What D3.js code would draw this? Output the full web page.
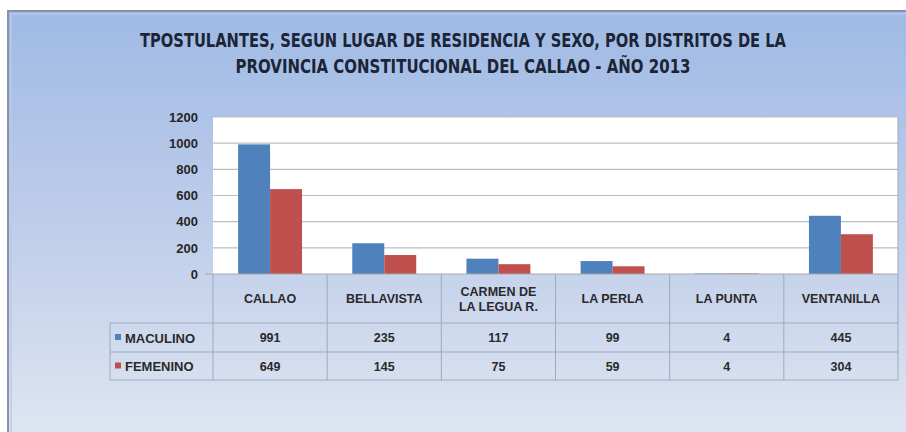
<!DOCTYPE html>
<html>
<head>
<meta charset="utf-8">
<script src="https://cdn.jsdelivr.net/npm/d3@7"></script>
<style>
  html, body { margin: 0; padding: 0; background: #ffffff; }
  svg { display: block; }
</style>
</head>
<body>
<div id="chart"></div>
<script>
// chart data
const districts = ["CALLAO", "BELLAVISTA", "CARMEN DE LA LEGUA R.", "LA PERLA", "LA PUNTA", "VENTANILLA"];
const seriesNames = ["MACULINO", "FEMENINO"];
const masculino = [991, 235, 117, 99, 4, 445];
const femenino = [649, 145, 75, 59, 4, 304];
const yTicks = [0, 200, 400, 600, 800, 1000, 1200];
const titleLines = [
  "TPOSTULANTES, SEGUN LUGAR DE RESIDENCIA Y SEXO, POR DISTRITOS DE LA",
  "PROVINCIA CONSTITUCIONAL DEL CALLAO - AÑO 2013"
];

const width = 906, height = 432;
const colors = ["#4f81bd", "#c0504d"];
const values = [masculino, femenino];

const svg = d3.select("#chart").append("svg")
    .attr("width", width)
    .attr("height", height);

// background panel with gradient
const defs = svg.append("defs");
const grad = defs.append("linearGradient")
    .attr("id", "panelGrad")
    .attr("x1", 0).attr("y1", 0).attr("x2", 0).attr("y2", 1);
grad.append("stop").attr("offset", "0%").attr("stop-color", "#9fbae5");
grad.append("stop").attr("offset", "45%").attr("stop-color", "#bccbe9");
grad.append("stop").attr("offset", "100%").attr("stop-color", "#e0e6f2");

svg.append("rect")
    .attr("x", 8).attr("y", 11)
    .attr("width", width).attr("height", height)
    .attr("fill", "url(#panelGrad)")
    .attr("stroke", "#8791ab")
    .attr("stroke-width", 2);
svg.append("rect")
    .attr("x", 11).attr("y", 14)
    .attr("width", width).attr("height", height)
    .attr("fill", "none")
    .attr("stroke", "#b9c9e6")
    .attr("stroke-width", 1.5);

// title
svg.append("g")
  .selectAll("text")
  .data(titleLines)
  .join("text")
    .attr("x", 463)
    .attr("y", (d, i) => 47 + i * 26)
    .attr("text-anchor", "middle")
    .attr("font-family", "'Liberation Sans Narrow', 'DejaVu Sans Condensed', sans-serif")
    .attr("font-weight", "bold")
    .attr("font-size", 19)
    .attr("fill", "#1b2536")
    .attr("textLength", (d, i) => i === 0 ? 646 : 455)
    .attr("lengthAdjust", "spacingAndGlyphs")
    .text(d => d);

// plot area
const plotLeft = 213, plotRight = 898, plotTop = 117, plotBottom = 274;

svg.append("rect")
    .attr("x", plotLeft).attr("y", plotTop)
    .attr("width", plotRight - plotLeft).attr("height", plotBottom - plotTop)
    .attr("fill", "#ffffff");

const y = d3.scaleLinear().domain([0, 1200]).range([plotBottom, plotTop]);
const x0 = d3.scaleBand().domain(districts).range([plotLeft, plotRight])
    .paddingInner(0.44).paddingOuter(0.22);
const x1 = d3.scaleBand().domain(seriesNames).range([0, x0.bandwidth()]);
const col = d3.scaleBand().domain(districts).range([plotLeft, plotRight]);

// gridlines
svg.append("g")
  .selectAll("line")
  .data(yTicks.filter(d => d > 0))
  .join("line")
    .attr("x1", plotLeft).attr("x2", plotRight)
    .attr("y1", d => y(d)).attr("y2", d => y(d))
    .attr("stroke", "#bdbdbd")
    .attr("stroke-width", 1.2);

// y axis
const yAxis = svg.append("g")
    .attr("transform", `translate(${plotLeft},0)`)
    .call(d3.axisLeft(y).tickValues(yTicks).tickFormat(d3.format("d"))
      .tickSize(0).tickPadding(15));
yAxis.select(".domain").remove();
yAxis.selectAll("text")
    .attr("font-family", "'Liberation Sans', Arial, sans-serif")
    .attr("font-weight", "bold")
    .attr("font-size", 13)
    .attr("fill", "#262626");

// bars
const groups = svg.append("g")
  .selectAll("g")
  .data(districts)
  .join("g")
    .attr("transform", d => `translate(${x0(d)},0)`);

groups.selectAll("rect")
  .data((d, i) => seriesNames.map((s, j) => ({ s, v: values[j][i], c: colors[j] })))
  .join("rect")
    .attr("x", d => x1(d.s))
    .attr("y", d => y(d.v))
    .attr("width", x1.bandwidth())
    .attr("height", d => plotBottom - y(d.v))
    .attr("fill", d => d.c);

// data table
const tableColor = "#9ea9bd";
const rowTop = [plotBottom, 323, 352, 380];
const legendLeft = 110;
const table = svg.append("g").attr("stroke", tableColor).attr("stroke-width", 1);

// horizontal lines
table.append("line").attr("x1", 205).attr("x2", plotRight)
    .attr("y1", plotBottom).attr("y2", plotBottom).attr("stroke", "#a8a8a8");
[1, 2, 3].forEach(r => {
  table.append("line").attr("x1", legendLeft).attr("x2", plotRight)
      .attr("y1", rowTop[r]).attr("y2", rowTop[r]);
});
// vertical lines
districts.forEach(d => {
  table.append("line").attr("x1", col(d)).attr("x2", col(d))
      .attr("y1", plotBottom).attr("y2", rowTop[3]);
});
table.append("line").attr("x1", plotRight).attr("x2", plotRight)
    .attr("y1", plotTop).attr("y2", rowTop[3]);
table.append("line").attr("x1", legendLeft).attr("x2", legendLeft)
    .attr("y1", rowTop[1]).attr("y2", rowTop[3]);

const labelFont = "'Liberation Sans', Arial, sans-serif";

// category headers
const headers = svg.append("g")
  .selectAll("text")
  .data(districts)
  .join("text")
    .attr("x", d => col(d) + col.bandwidth() / 2)
    .attr("text-anchor", "middle")
    .attr("font-family", labelFont)
    .attr("font-weight", "bold")
    .attr("font-size", 12.5)
    .attr("fill", "#2a2a2a");
headers.each(function (d) {
  const t = d3.select(this);
  const lines = d === "CARMEN DE LA LEGUA R." ? ["CARMEN DE", "LA LEGUA R."] : [d];
  const y0 = lines.length === 1 ? 303 : 296;
  lines.forEach((ln, i) => {
    t.append("tspan").attr("x", col(d) + col.bandwidth() / 2)
        .attr("y", y0 + i * 15).text(ln);
  });
});

// value rows
seriesNames.forEach((s, j) => {
  const cy = (rowTop[j + 1] + rowTop[j + 2]) / 2;
  svg.append("rect")
      .attr("x", 115).attr("y", cy - 3.5)
      .attr("width", 6).attr("height", 6)
      .attr("fill", colors[j]);
  svg.append("text")
      .attr("x", 125).attr("y", cy + 5)
      .attr("font-family", labelFont)
      .attr("font-weight", "bold")
      .attr("font-size", 13)
      .attr("fill", "#2a2a2a")
      .text(s);
  svg.append("g")
    .selectAll("text")
    .data(values[j])
    .join("text")
      .attr("x", (d, i) => col(districts[i]) + col.bandwidth() / 2)
      .attr("y", cy + 4.5)
      .attr("text-anchor", "middle")
      .attr("font-family", labelFont)
      .attr("font-weight", "bold")
      .attr("font-size", 12.5)
      .attr("fill", "#2a2a2a")
      .text(d => d);
});
</script>
</body>
</html>
